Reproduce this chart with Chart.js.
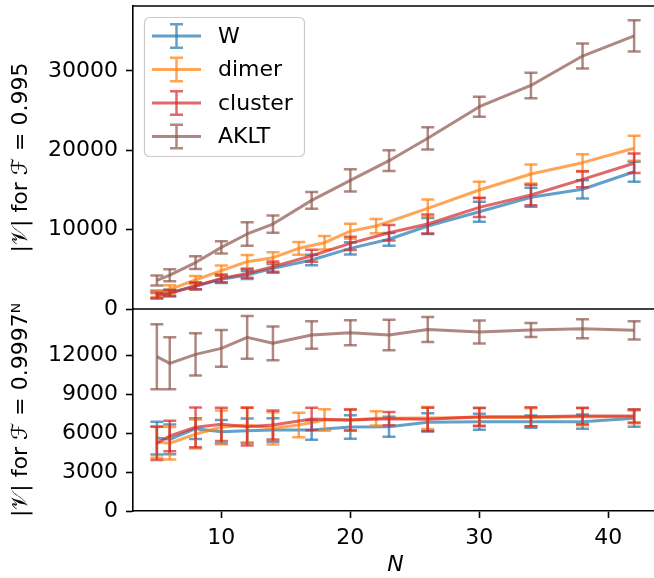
<!DOCTYPE html>
<html>
<head>
<meta charset="utf-8">
<script src="https://cdn.jsdelivr.net/npm/chart.js@4.4.1/dist/chart.umd.min.js"></script>
<style>
    html, body { margin: 0; padding: 0; background: #fff; overflow: hidden; }
    #wrap { position: absolute; left: 0; top: 0; width: 658px; height: 578px; }
</style>
</head>
<body>
<div id="wrap"><canvas id="chart"></canvas></div>
<script>
// System sizes
const nCommon = [5, 6, 8, 10, 12, 14, 17, 20, 23, 26, 30, 34, 38, 42];
const nDimer = [5, 6, 8, 10, 12, 14, 16, 18, 20, 22, 26, 30, 34, 38, 42];

const seriesNames = ['W', 'dimer', 'cluster', 'AKLT'];

// Top panel: |V| for F = 0.995
const wTop = [1850, 2060, 2900, 3740, 4280, 5120, 6170, 7640, 8780, 10450, 12250, 14070, 15080, 17290];
const wTopErr = [450, 400, 400, 450, 500, 550, 650, 780, 800, 1000, 1260, 1200, 1150, 1260];
const dimerTop = [1900, 2480, 3650, 4830, 5960, 6460, 7640, 8350, 9800, 10450, 12680, 14990, 17000, 18430, 20240];
const dimerTopErr = [400, 500, 500, 650, 850, 700, 800, 850, 950, 900, 1100, 1050, 1200, 1050, 1570];
const clusterTop = [1680, 1970, 2900, 3860, 4490, 5330, 6710, 8270, 9610, 10700, 12800, 14360, 16330, 18350];
const clusterTopErr = [350, 400, 450, 500, 550, 650, 750, 840, 970, 1200, 1220, 1300, 1000, 1220];
const akltTop = [3600, 4260, 5850, 7760, 9450, 10700, 13680, 16200, 18680, 21500, 25480, 28150, 31860, 34400];
const akltTopErr = [630, 760, 800, 760, 1470, 1090, 1050, 1390, 1300, 1400, 1260, 1600, 1570, 1970];

// Bottom panel: |V| for F = 0.9997^N
const wBot = [5610, 5510, 6330, 6100, 6180, 6230, 6230, 6460, 6490, 6820, 6870, 6870, 6870, 7130];
const wBotErr = [1260, 1150, 800, 900, 940, 900, 750, 900, 770, 700, 620, 470, 550, 640];
const dimerBot = [5300, 5210, 5920, 6440, 6620, 6360, 6620, 7000, 7000, 7130, 7150, 7200, 7200, 7250, 7250];
const dimerBotErr = [1200, 1250, 1120, 1300, 1350, 1240, 940, 830, 800, 550, 850, 700, 700, 650, 500];
const clusterBot = [5210, 5770, 6440, 6670, 6490, 6620, 7080, 7000, 7100, 7050, 7250, 7250, 7310, 7310];
const clusterBotErr = [1280, 1180, 1530, 1280, 1450, 1115, 860, 800, 510, 900, 700, 730, 640, 510];
const akltBot = [11870, 11360, 12050, 12510, 13360, 12900, 13540, 13720, 13540, 13970, 13770, 13920, 14020, 13900];
const akltBotErr = [2500, 2000, 1630, 1410, 1640, 1300, 1050, 960, 1170, 960, 880, 540, 730, 705];

// Axis ticks
const xTicks = [10, 20, 30, 40];
const yTopTicks = [0, 10000, 20000, 30000];
const yBotTicks = [0, 3000, 6000, 9000, 12000];

const colors = ['rgba(31,119,180,0.7)', 'rgba(255,127,14,0.7)', 'rgba(214,39,40,0.7)', 'rgba(140,86,75,0.7)'];
const FONT = "'DejaVu Sans', 'Noto Sans', sans-serif";

function makeSet(i, xs, ys, errs, axis) {
    return {
        label: seriesNames[i],
        yAxisID: axis,
        data: xs.map((x, k) => ({ x: x, y: ys[k] })),
        errors: errs,
        borderColor: colors[i],
        backgroundColor: colors[i],
        borderWidth: 3,
        borderJoinStyle: 'round',
        pointRadius: 0,
        pointHoverRadius: 0,
        fill: false,
        tension: 0,
        order: 4 - i
    };
}

// Draw error bars right after each line, so stacking order follows the series
const errorBars = {
    id: 'errorBars',
    afterDatasetDraw(chart, args) {
        const ds = chart.data.datasets[args.index];
        if (!ds.errors) return;
        const xs = chart.scales.x;
        const ys = chart.scales[ds.yAxisID];
        const area = chart.chartArea;
        const ctx = chart.ctx;
        ctx.save();
        ctx.beginPath();
        ctx.rect(area.left, area.top, area.right - area.left, area.bottom - area.top);
        ctx.clip();
        ctx.strokeStyle = ds.borderColor;
        ctx.lineWidth = 2.5;
        ds.data.forEach((p, k) => {
            const px = xs.getPixelForValue(p.x);
            const lo = ys.getPixelForValue(p.y - ds.errors[k]);
            const hi = ys.getPixelForValue(p.y + ds.errors[k]);
            ctx.beginPath();
            ctx.moveTo(px, lo);
            ctx.lineTo(px, hi);
            ctx.stroke();
            ctx.beginPath();
            ctx.moveTo(px - 6.5, lo);
            ctx.lineTo(px + 6.5, lo);
            ctx.moveTo(px - 6.5, hi);
            ctx.lineTo(px + 6.5, hi);
            ctx.stroke();
        });
        ctx.restore();
    }
};

// Top spine of each panel (Chart.js only draws the axis side)
const spines = {
    id: 'spines',
    afterDraw(chart) {
        const ctx = chart.ctx;
        const area = chart.chartArea;
        ctx.save();
        ctx.strokeStyle = '#000';
        ctx.lineWidth = 1.6;
        ['yTop', 'yBot'].forEach(id => {
            const y = chart.scales[id].top;
            ctx.beginPath();
            ctx.moveTo(area.left - 0.8, y);
            ctx.lineTo(area.right, y);
            ctx.stroke();
        });
        ctx.restore();
    }
};

// Matplotlib-like legend with errorbar handles
const legendBox = {
    id: 'legendBox',
    afterDraw(chart) {
        const ctx = chart.ctx;
        ctx.save();
        ctx.beginPath();
        ctx.roundRect(144.5, 17.5, 160, 139, 5);
        ctx.fillStyle = 'rgba(255,255,255,0.8)';
        ctx.fill();
        ctx.strokeStyle = '#cccccc';
        ctx.lineWidth = 1.2;
        ctx.stroke();
        ctx.font = '22px ' + FONT;
        ctx.textBaseline = 'middle';
        ctx.textAlign = 'left';
        seriesNames.forEach((name, i) => {
            const cy = 36 + i * 33.5;
            ctx.strokeStyle = colors[i];
            ctx.lineWidth = 3;
            ctx.beginPath();
            ctx.moveTo(152, cy);
            ctx.lineTo(201, cy);
            ctx.stroke();
            ctx.lineWidth = 2.5;
            ctx.beginPath();
            ctx.moveTo(176.5, cy - 11.7);
            ctx.lineTo(176.5, cy + 11.7);
            ctx.moveTo(170, cy - 11.7);
            ctx.lineTo(183, cy - 11.7);
            ctx.moveTo(170, cy + 11.7);
            ctx.lineTo(183, cy + 11.7);
            ctx.stroke();
            ctx.fillStyle = '#000';
            ctx.fillText(name, 218, cy + 1);
        });
        ctx.restore();
    }
};

function yAxis(ticksList, max, weight, title) {
    return {
        type: 'linear',
        position: 'left',
        stack: 'panels',
        stackWeight: weight,
        min: 0,
        max: max,
        afterBuildTicks: s => { s.ticks = ticksList.map(v => ({ value: v })); },
        afterFit: s => {
            s.width = 133;
            s.paddingTop = 0;
            s.paddingBottom = 0;
        },
        grid: { drawOnChartArea: false, drawTicks: true, tickLength: 7, tickColor: '#000', tickWidth: 1.6 },
        border: { display: true, color: '#000', width: 1.6 },
        ticks: {
            autoSkip: false,
            padding: 8,
            color: '#000',
            font: { family: FONT, size: 22 },
            callback: v => String(v)
        },
        title: {
            display: true,
            text: title,
            color: '#000',
            padding: { top: 8, bottom: 0 },
            font: { family: FONT, size: 22 }
        }
    };
}

const ctx = document.getElementById('chart').getContext('2d');
new Chart(ctx, {
    type: 'line',
    data: {
        datasets: [
            makeSet(0, nCommon, wTop, wTopErr, 'yTop'),
            makeSet(1, nDimer, dimerTop, dimerTopErr, 'yTop'),
            makeSet(2, nCommon, clusterTop, clusterTopErr, 'yTop'),
            makeSet(3, nCommon, akltTop, akltTopErr, 'yTop'),
            makeSet(0, nCommon, wBot, wBotErr, 'yBot'),
            makeSet(1, nDimer, dimerBot, dimerBotErr, 'yBot'),
            makeSet(2, nCommon, clusterBot, clusterBotErr, 'yBot'),
            makeSet(3, nCommon, akltBot, akltBotErr, 'yBot')
        ]
    },
    options: {
        responsive: true,
        maintainAspectRatio: false,
        animation: false,
        layout: { padding: { left: 0, top: 6, right: 0, bottom: 0 } },
        plugins: {
            legend: { display: false },
            tooltip: { enabled: false }
        },
        scales: {
            x: {
                type: 'linear',
                min: 3.15,
                max: 43.85,
                afterBuildTicks: s => { s.ticks = xTicks.map(v => ({ value: v })); },
                afterFit: s => {
                    s.height = 67;
                    s.paddingLeft = 0;
                    s.paddingRight = 0;
                },
                grid: { drawOnChartArea: false, drawTicks: true, tickLength: 7, tickColor: '#000', tickWidth: 1.6 },
                border: { display: true, color: '#000', width: 1.6 },
                ticks: {
                    autoSkip: false,
                    maxRotation: 0,
                    padding: 7,
                    color: '#000',
                    font: { family: FONT, size: 22 }
                },
                title: {
                    display: true,
                    text: 'N',
                    color: '#000',
                    padding: { top: 0, bottom: 0 },
                    font: { family: FONT, size: 22, style: 'italic' }
                }
            },
            // stacked left axes are placed in reverse order: last defined ends up on top
            yBot: yAxis(yBotTicks, 15540, 2, '|\u{1D4B1}| for \u2131 = 0.9997\u1D3A'),
            yTop: yAxis(yTopTicks, 38160, 3, '|\u{1D4B1}| for \u2131 = 0.995')
        }
    },
    plugins: [errorBars, spines, legendBox]
});
</script>
</body>
</html>
